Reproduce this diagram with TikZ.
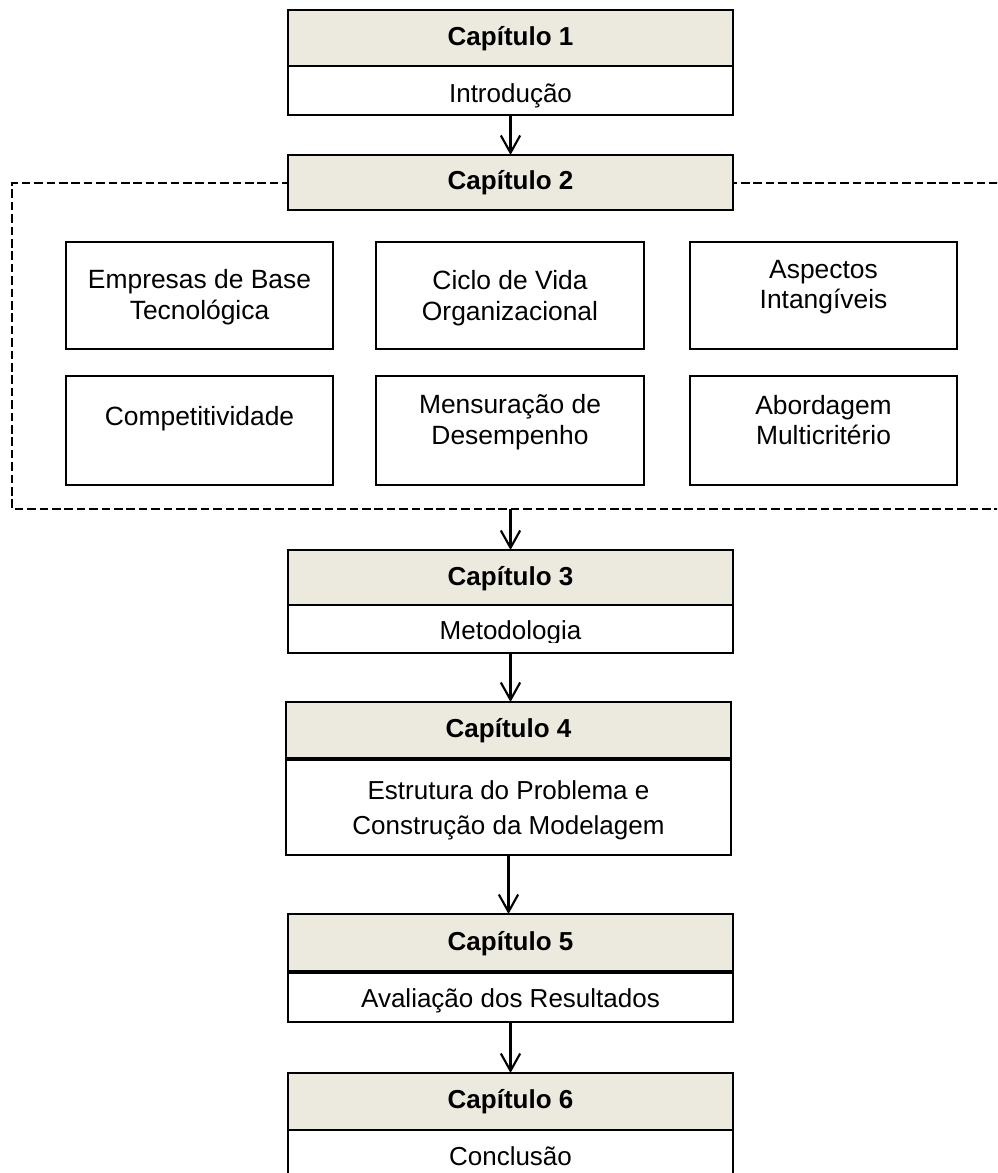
\documentclass[tikz,border=0pt]{standalone}
\usepackage{fontspec}
\setmainfont{Liberation Sans}
\usetikzlibrary{arrows.meta,fit}
\definecolor{headfill}{RGB}{236,233,223}
\begin{document}
\begin{tikzpicture}[x=0.75pt,y=-0.75pt,
  boxfit/.style={fit={#1}, inner sep=0pt, outer sep=0pt, draw=black, line width=2pt, rectangle},
  headbox/.style={boxfit={#1}, fill=headfill},
  bodybox/.style={boxfit={#1}, fill=white},
  topicbox/.style={boxfit={#1}, fill=white},
  titletext/.style={anchor=base, inner sep=0pt, font=\fontsize{19.5pt}{26pt}\selectfont\bfseries},
  bodytext/.style={anchor=base, inner sep=0pt, font=\fontsize{19.5pt}{26pt}\selectfont},
  topictext/.style={inner sep=0pt, align=center, font=\fontsize{19.8pt}{23pt}\selectfont},
  dashline/.style={line width=1.5pt, dash pattern=on 6.5pt off 2.8pt},
  arr/.style={line width=1.6pt, -{Straight Barb[length=13pt, width=14.5pt, line width=1.6pt]}}
]
\useasboundingbox (0,0) rectangle (997,1173);
\clip (0,0) rectangle (997,1173);

% dashed frame around chapter 2 (open on the right)
\draw[dashline] (1010,183) -- (12,183) -- (12,509) -- (1010,509);
\coordinate (fbot) at (510.5,509);

% chapter 1
\node[headbox={(288,10) (733,66)}] (c1h) {};
\node[bodybox={(288,66) (733,115)}] (c1b) {};
\node[titletext] (t1) at (510.5,45.5) {Capítulo 1};
\node[bodytext] (d1) at (510.5,103) {Introdução};

% chapter 2
\node[headbox={(288,155) (733,210)}] (c2h) {};
\node[titletext] (t2) at (510.5,189.5) {Capítulo 2};

% chapter 2 topics
\node[topicbox={(66,242) (333,349)}] (k1) {};
\node[topicbox={(376,242) (644,349)}] (k2) {};
\node[topicbox={(690,242) (957,349)}] (k3) {};
\node[topicbox={(66,376) (333,485)}] (k4) {};
\node[topicbox={(376,376) (644,485)}] (k5) {};
\node[topicbox={(690,376) (957,485)}] (k6) {};
\node[topictext] (s1) at (199.5,297.5) {Empresas de Base\\Tecnológica};
\node[topictext] (s2) at (510,298) {Ciclo de Vida\\Organizacional};
\node[topictext] (s3) at (823.5,287) {Aspectos\\Intangíveis};
\node[topictext, anchor=base] (s4) at (199.5,425) {Competitividade};
\node[topictext] (s5) at (510,422.5) {Mensuração de\\Desempenho};
\node[topictext] (s6) at (823.5,420) {Abordagem\\Multicritério};

% chapter 3
\node[headbox={(288,550) (733,605)}] (c3h) {};
\node[bodybox={(288,605) (733,653)}] (c3b) {};
\node[titletext] (t3) at (510.5,585.5) {Capítulo 3};
\begin{scope}
  \clip (288,605) rectangle (733,642);
  \node[bodytext] (d3) at (510.5,639.5) {Metodologia};
\end{scope}

% chapter 4
\node[headbox={(286,702) (731,759)}] (c4h) {};
\node[bodybox={(286,759) (731,855)}] (c4b) {};
\draw[line width=3pt] (c4h.south west) -- (c4h.south east);
\node[titletext] (t4) at (508.5,737.5) {Capítulo 4};
\node[inner sep=0pt, align=center, font=\fontsize{19.5pt}{26.25pt}\selectfont] (d4) at (508.5,810)
  {Estrutura do Problema e\\Construção da Modelagem};

% chapter 5
\node[headbox={(288,914) (733,972)}] (c5h) {};
\node[bodybox={(288,972) (733,1022)}] (c5b) {};
\draw[line width=3pt] (c5h.south west) -- (c5h.south east);
\node[titletext] (t5) at (510.5,950.5) {Capítulo 5};
\node[bodytext] (d5) at (510.5,1007.5) {Avaliação dos Resultados};

% chapter 6
\node[headbox={(288,1073) (733,1130)}] (c6h) {};
\node[bodybox={(288,1130) (733,1195)}] (c6b) {};
\node[titletext] (t6) at (510.5,1108.5) {Capítulo 6};
\node[bodytext] (d6) at (510.5,1165.5) {Conclusão};

% flow between chapters
\draw[arr] (c1b.south) -- (c1b.south |- c2h.north);
\draw[arr] (fbot) -- (fbot |- c3h.north);
\draw[arr] (c3b.south) -- (c3b.south |- c4h.north);
\draw[arr] (c4b.south) -- (c4b.south |- c5h.north);
\draw[arr] (c5b.south) -- (c5b.south |- c6h.north);
\end{tikzpicture}
\end{document}
